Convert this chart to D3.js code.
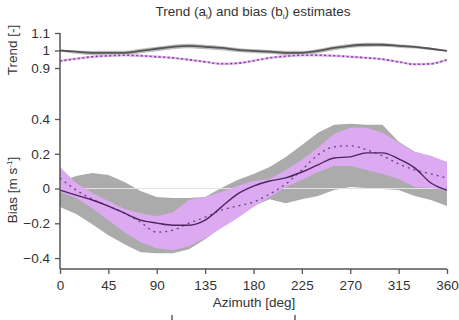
<!DOCTYPE html>
<html>
<head>
<meta charset="utf-8">
<script src="https://cdn.jsdelivr.net/npm/d3@7"></script>
<style>
  body { margin: 0; background: #fff; }
  text { font-family: "Liberation Sans", Arial, Helvetica, sans-serif; fill: #333; }
</style>
</head>
<body>
<div id="chart"></div>
<script>

// azimuth samples (deg)
var azimuth = [0, 15, 30, 45, 60, 75, 90, 105, 120, 135, 150, 165, 180,
               195, 210, 225, 240, 255, 270, 285, 300, 315, 330, 345, 360];
var xTicks = [0, 45, 90, 135, 180, 225, 270, 315, 360];
var trendTicks = [0.9, 1, 1.1];
var biasTicks = [-0.4, -0.2, 0, 0.2, 0.4];

// trend (a_i)
var trendGray = [1.000, 0.993, 0.987, 0.987, 0.987, 0.998, 1.010, 1.021, 1.027, 1.021, 1.015, 1.004, 0.998,
                 0.993, 0.987, 0.987, 0.998, 1.015, 1.027, 1.033, 1.033, 1.027, 1.021, 1.010, 0.998];
var trendGrayHi = [1.005, 1.000, 0.997, 0.998, 0.999, 1.010, 1.022, 1.033, 1.039, 1.033, 1.026, 1.015, 1.008,
                   1.003, 0.998, 0.998, 1.009, 1.026, 1.038, 1.044, 1.043, 1.036, 1.029, 1.016, 1.002];
var trendGrayLo = [0.995, 0.982, 0.974, 0.973, 0.973, 0.984, 0.996, 1.007, 1.013, 1.007, 1.002, 0.991, 0.986,
                   0.981, 0.974, 0.974, 0.985, 1.002, 1.014, 1.020, 1.021, 1.016, 1.011, 1.003, 0.994];
var trendPurple = [0.940, 0.953, 0.964, 0.970, 0.973, 0.970, 0.964, 0.958, 0.947, 0.935, 0.924, 0.927, 0.941,
                   0.958, 0.967, 0.973, 0.973, 0.970, 0.964, 0.958, 0.950, 0.935, 0.921, 0.924, 0.947];
var trendPurpleHi = [0.947, 0.960, 0.971, 0.977, 0.980, 0.977, 0.971, 0.965, 0.954, 0.942, 0.931, 0.934, 0.948,
                     0.965, 0.974, 0.980, 0.980, 0.977, 0.971, 0.965, 0.957, 0.942, 0.928, 0.931, 0.954];
var trendPurpleLo = [0.933, 0.946, 0.957, 0.963, 0.966, 0.963, 0.957, 0.951, 0.940, 0.928, 0.917, 0.920, 0.934,
                     0.951, 0.960, 0.966, 0.966, 0.963, 0.957, 0.951, 0.943, 0.928, 0.914, 0.917, 0.940];

// bias (b_i), m s-1
var biasSolid = [-0.009, -0.038, -0.066, -0.101, -0.142, -0.182, -0.199, -0.211, -0.211, -0.182, -0.107, -0.032, 0.014,
                 0.043, 0.061, 0.095, 0.136, 0.176, 0.182, 0.205, 0.205, 0.171, 0.119, 0.032, -0.009];
var biasDotted = [0.061, -0.009, -0.061, -0.101, -0.142, -0.194, -0.251, -0.240, -0.199, -0.165, -0.124, -0.101, -0.078,
                  -0.032, 0.026, 0.107, 0.194, 0.240, 0.246, 0.223, 0.188, 0.142, 0.107, 0.084, 0.061];
var grayHi = [0.038, 0.072, 0.090, 0.078, 0.038, -0.014, -0.049, -0.055, -0.055, -0.049, 0.003, 0.049, 0.084,
              0.124, 0.182, 0.251, 0.321, 0.367, 0.373, 0.367, 0.367, 0.269, 0.211, 0.182, 0.153];
var grayLo = [-0.107, -0.147, -0.205, -0.269, -0.321, -0.367, -0.373, -0.373, -0.350, -0.292, -0.223, -0.159, -0.101,
              -0.061, -0.084, -0.061, -0.043, -0.009, 0.009, 0.003, -0.003, -0.009, -0.043, -0.066, -0.101];
var purpleHi = [0.124, 0.032, -0.026, -0.072, -0.118, -0.142, -0.159, -0.136, -0.066, -0.049, -0.020, 0.014, 0.043,
                0.055, 0.107, 0.165, 0.234, 0.315, 0.350, 0.350, 0.321, 0.263, 0.211, 0.188, 0.153];
var purpleLo = [-0.020, -0.055, -0.113, -0.182, -0.251, -0.309, -0.344, -0.355, -0.332, -0.286, -0.228, -0.171, -0.107,
                -0.049, 0.009, 0.049, 0.095, 0.130, 0.130, 0.107, 0.084, 0.055, 0.009, 0.003, -0.009];

var width = 459, height = 320;

var svg = d3.select("#chart").append("svg")
    .attr("width", width)
    .attr("height", height);

var x = d3.scaleLinear().domain([0, 360]).range([60, 447]);
var yTrend = d3.scaleLinear().domain([0.9, 1.1]).range([68, 33]);
var yBias = d3.scaleLinear().domain([-0.463, 0.4]).range([269, 119]);

function band(lo, hi, y, curve) {
    return d3.area()
        .x(function(d, i) { return x(azimuth[i]); })
        .y0(function(d, i) { return y(lo[i]); })
        .y1(function(d, i) { return y(hi[i]); })
        .curve(curve || d3.curveLinear)(azimuth);
}
function line(vals, y) {
    return d3.line()
        .x(function(d, i) { return x(azimuth[i]); })
        .y(function(d) { return y(d); })
        .curve(d3.curveMonotoneX)(vals);
}

// bias panel
svg.append("path").attr("d", band(grayLo, grayHi, yBias)).attr("fill", "#ababab");
svg.append("line")
    .attr("x1", x(0)).attr("x2", x(360))
    .attr("y1", yBias(0)).attr("y2", yBias(0))
    .attr("stroke", "#e4e4e4").attr("stroke-width", 1.2);
svg.append("path").attr("d", band(purpleLo, purpleHi, yBias)).attr("fill", "#dcaaf0");
svg.append("path").attr("d", line(biasDotted, yBias))
    .attr("fill", "none").attr("stroke", "#6e3f84")
    .attr("stroke-width", 1.3).attr("stroke-dasharray", "2,4");
svg.append("path").attr("d", line(biasSolid, yBias))
    .attr("fill", "none").attr("stroke", "#4e2460").attr("stroke-width", 1.4);

// trend panel
svg.append("path").attr("d", band(trendGrayLo, trendGrayHi, yTrend, d3.curveMonotoneX))
    .attr("fill", "#bdbdbd");
svg.append("path").attr("d", line(trendGray, yTrend))
    .attr("fill", "none").attr("stroke", "#555").attr("stroke-width", 1.8);
svg.append("path").attr("d", band(trendPurpleLo, trendPurpleHi, yTrend, d3.curveMonotoneX))
    .attr("fill", "#e8b8f5");
svg.append("path").attr("d", line(trendPurple, yTrend))
    .attr("fill", "none").attr("stroke", "#7a4a90")
    .attr("stroke-width", 1.6).attr("stroke-dasharray", "2,2.5");

// axes
var axisColor = "#555";

var xAxis = svg.append("g")
    .attr("transform", "translate(0," + yBias.range()[0] + ")")
    .call(d3.axisBottom(x).tickValues(xTicks).tickSize(5).tickSizeOuter(0).tickPadding(6));

var yAxisT = svg.append("g")
    .attr("transform", "translate(" + x.range()[0] + ",0)")
    .call(d3.axisLeft(yTrend).tickValues(trendTicks).tickSize(5).tickPadding(5)
        .tickFormat(function(d) { return d === 1 ? "1" : d3.format(".1f")(d); }));

var yAxisB = svg.append("g")
    .attr("transform", "translate(" + x.range()[0] + ",0)")
    .call(d3.axisLeft(yBias).tickValues(biasTicks).tickSize(5).tickPadding(5)
        .tickFormat(function(d) { return d === 0 ? "0" : d3.format(".1f")(d); }));

[xAxis, yAxisT, yAxisB].forEach(function(g) {
    g.select(".domain").remove();
    g.selectAll(".tick line").attr("stroke", axisColor).attr("stroke-width", 1.3);
    g.selectAll(".tick text")
        .style("font-family", "'Liberation Sans', Arial, sans-serif")
        .style("font-size", "13.5px")
        .attr("fill", "#333");
});

svg.append("line")
    .attr("x1", x(0)).attr("x2", x(0))
    .attr("y1", yTrend(1.1)).attr("y2", yBias.range()[0])
    .attr("stroke", axisColor).attr("stroke-width", 1.5);
svg.append("line")
    .attr("x1", x(0)).attr("x2", x(360))
    .attr("y1", yBias.range()[0]).attr("y2", yBias.range()[0])
    .attr("stroke", axisColor).attr("stroke-width", 1.5);

// title and labels
var title = svg.append("text")
    .attr("x", 253).attr("y", 16)
    .attr("text-anchor", "middle")
    .style("font-size", "13.5px");
title.append("tspan").text("Trend (a");
title.append("tspan").attr("dy", 3).style("font-size", "8px").text("i");
title.append("tspan").attr("dy", -3).text(") and bias (b");
title.append("tspan").attr("dy", 3).style("font-size", "8px").text("i");
title.append("tspan").attr("dy", -3).text(") estimates");

svg.append("text")
    .attr("transform", "translate(17,50) rotate(-90)")
    .attr("text-anchor", "middle")
    .style("font-size", "13.5px")
    .text("Trend [-]");

var biasLabel = svg.append("text")
    .attr("transform", "translate(17,190) rotate(-90)")
    .attr("text-anchor", "middle")
    .style("font-size", "13.5px");
biasLabel.append("tspan").text("Bias [m s");
biasLabel.append("tspan").attr("dy", -5).style("font-size", "8px").text("-1");
biasLabel.append("tspan").attr("dy", 5).text("]");

svg.append("text")
    .attr("x", 254).attr("y", 307)
    .attr("text-anchor", "middle")
    .style("font-size", "13.5px")
    .text("Azimuth [deg]");

// tick stubs of the panel below
svg.selectAll(".stub")
    .data([172, 295])
    .enter().append("line")
    .attr("x1", function(d) { return d; }).attr("x2", function(d) { return d; })
    .attr("y1", 315).attr("y2", 320)
    .attr("stroke", "#333").attr("stroke-width", 1.2);

</script>
</body>
</html>
